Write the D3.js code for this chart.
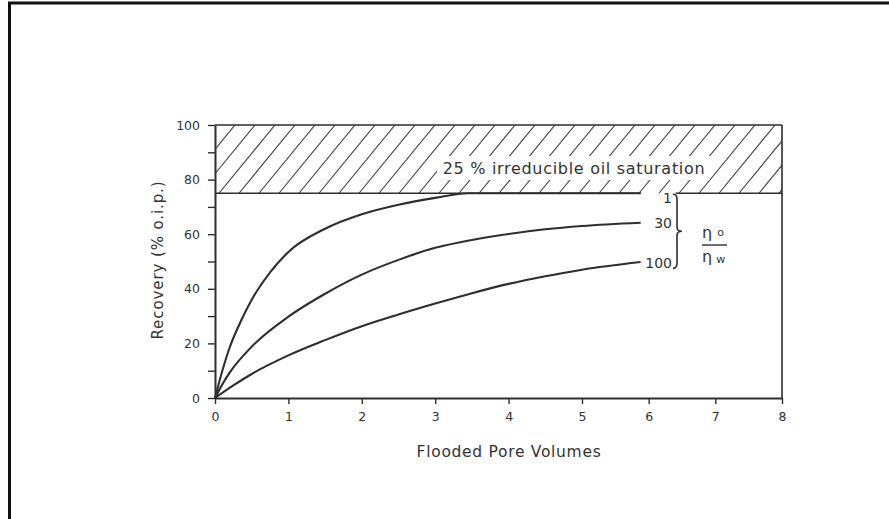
<!DOCTYPE html>
<html>
<head>
<meta charset="utf-8">
<script src="https://cdn.jsdelivr.net/npm/d3@7"></script>
<style>
  body { margin: 0; background: #ffffff; }
  text { font-family: "DejaVu Sans", sans-serif; fill: #333; }
</style>
</head>
<body>
<svg id="chart" width="889" height="519"></svg>
<script>
// Tick values
const xTicks = [0, 1, 2, 3, 4, 5, 6, 7, 8];
const yTicks = [0, 10, 20, 30, 40, 50, 60, 70, 80, 90, 100];
const yLabelled = [0, 20, 40, 60, 80, 100];

// Oil / water viscosity ratios
const ratioLabels = ["1", "30", "100"];

// Recovery (% o.i.p.) against flooded pore volumes, one list per viscosity ratio
const pvRatio1 = [0, 0.1, 0.2, 0.35, 0.5, 0.75, 1, 1.5, 2, 2.5, 3, 3.45, 4, 5, 5.88];
const recRatio1 = [0, 10, 18.5, 28, 36, 46, 53.5, 62, 67.3, 70.8, 73.3, 75, 75, 75, 75];

const pvRatio30 = [0, 0.1, 0.2, 0.5, 1, 1.5, 2, 2.5, 3, 3.5, 4, 4.5, 5, 5.88];
const recRatio30 = [0, 5, 9.3, 18.8, 29.8, 38.2, 45.2, 50.6, 55, 57.9, 60.1, 61.8, 63, 64.2];

const pvRatio100 = [0, 0.25, 0.5, 1, 1.5, 2, 2.5, 3, 3.5, 4, 4.5, 5, 5.88];
const recRatio100 = [0, 4.6, 8.8, 15.6, 21.2, 26.3, 30.6, 34.6, 38.4, 41.8, 44.6, 47, 49.8];

// Upper limit of recovery: 25 % of the oil stays in place
const residualLimit = 75;
const hatchText = "25 % irreducible oil saturation";
const xTitle = "Flooded Pore Volumes";
const yTitle = "Recovery (% o.i.p.)";

const series = [
  { label: ratioLabels[0], pv: pvRatio1, rec: recRatio1, nudge: 5 },
  { label: ratioLabels[1], pv: pvRatio30, rec: recRatio30, nudge: 0 },
  { label: ratioLabels[2], pv: pvRatio100, rec: recRatio100, nudge: 1 }
];

const ink = "#2e2e2e";
const svg = d3.select("#chart");

// Page frame (left and top edges)
svg.append("line").attr("x1", 9.5).attr("x2", 9.5).attr("y1", 2).attr("y2", 519)
  .attr("stroke", "#111").attr("stroke-width", 3);
svg.append("line").attr("x1", 8).attr("x2", 889).attr("y1", 3).attr("y2", 3)
  .attr("stroke", "#111").attr("stroke-width", 3);

// The pore-volume axis is drawn slightly wider for the first five units
const x = d3.scaleLinear().domain([0, 5, 8]).range([215, 582, 782]);
const y = d3.scaleLinear().domain([0, 100]).range([398, 125]);

// Hatched band above the residual limit
const defs = svg.append("defs");
defs.append("clipPath").attr("id", "band")
  .append("rect")
  .attr("x", x(0)).attr("y", y(100))
  .attr("width", x(8) - x(0)).attr("height", y(residualLimit) - y(100));

const slant = 56;
const hatch = svg.append("g").attr("clip-path", "url(#band)");
hatch.selectAll("line")
  .data(d3.range(x(0) - slant, x(8) + 20, 20))
  .join("line")
  .attr("x1", d => d).attr("y1", y(residualLimit))
  .attr("x2", d => d + slant).attr("y2", y(100))
  .attr("stroke", "#3a3a3a").attr("stroke-width", 1.1);

// Clear space for the band caption
const cap = svg.append("g");
cap.append("rect")
  .attr("x", 437).attr("y", 156).attr("width", 273).attr("height", 24)
  .attr("fill", "#fff");
cap.append("text")
  .attr("x", 574).attr("y", 173.5)
  .attr("text-anchor", "middle")
  .attr("font-size", 16)
  .attr("letter-spacing", 0.7)
  .text(hatchText);

// Lower edge of the band, broken where the ratio "1" label sits
const lastPv = pvRatio1[pvRatio1.length - 1];
svg.append("line")
  .attr("x1", x(0)).attr("x2", x(lastPv))
  .attr("y1", y(residualLimit)).attr("y2", y(residualLimit))
  .attr("stroke", ink).attr("stroke-width", 1.6);
svg.append("line")
  .attr("x1", x(lastPv) + 35).attr("x2", x(8))
  .attr("y1", y(residualLimit)).attr("y2", y(residualLimit))
  .attr("stroke", ink).attr("stroke-width", 1.6);

// Plot frame: top and right edges
svg.append("line").attr("x1", x(0)).attr("x2", x(8)).attr("y1", y(100)).attr("y2", y(100))
  .attr("stroke", ink).attr("stroke-width", 1.6);
svg.append("line").attr("x1", x(8)).attr("x2", x(8)).attr("y1", y(100)).attr("y2", y(0))
  .attr("stroke", ink).attr("stroke-width", 1.6);

// Axes
const yAxis = svg.append("g")
  .attr("transform", `translate(${x(0)},0)`)
  .call(d3.axisLeft(y).tickValues(yTicks).tickSize(7).tickSizeOuter(0).tickPadding(8)
    .tickFormat(d => yLabelled.includes(d) ? d : ""));
const xAxis = svg.append("g")
  .attr("transform", `translate(0,${y(0)})`)
  .call(d3.axisBottom(x).tickValues(xTicks).tickSize(6).tickSizeOuter(0).tickPadding(8)
    .tickFormat(d3.format("d")));

[yAxis, xAxis].forEach(g => {
  g.select(".domain").attr("stroke", ink).attr("stroke-width", 2);
  g.selectAll(".tick line").attr("stroke", ink).attr("stroke-width", 1.4);
  g.selectAll(".tick text")
    .attr("fill", "#3a3a3a")
    .attr("font-family", "DejaVu Sans, sans-serif")
    .attr("font-size", 12.5);
});

// Axis titles
svg.append("text")
  .attr("x", 509).attr("y", 457)
  .attr("text-anchor", "middle")
  .attr("font-size", 15.5)
  .attr("letter-spacing", 0.7)
  .text(xTitle);
svg.append("text")
  .attr("transform", `translate(163,260) rotate(-90)`)
  .attr("text-anchor", "middle")
  .attr("font-size", 15)
  .attr("letter-spacing", 0.9)
  .text(yTitle);

// Recovery curves
const line = d3.line()
  .x(d => x(d[0]))
  .y(d => y(d[1]))
  .curve(d3.curveMonotoneX);

series.forEach(s => {
  const pts = s.pv.map((p, i) => [p, s.rec[i]]);
  svg.append("path")
    .datum(pts)
    .attr("d", line)
    .attr("fill", "none")
    .attr("stroke", ink)
    .attr("stroke-width", 2.1)
    .attr("stroke-linejoin", "round");
  const end = pts[pts.length - 1];
  svg.append("text")
    .attr("x", 672)
    .attr("y", y(end[1]) + s.nudge)
    .attr("dy", "0.36em")
    .attr("text-anchor", "end")
    .attr("font-size", 14)
    .text(s.label);
});

// Brace grouping the ratio labels
const bTop = y(residualLimit) + 1;
const bBot = y(47.5);
const bMid = (bTop + bBot) / 2;
const bx = 677;
const brace = d3.path();
brace.moveTo(bx - 4, bTop);
brace.quadraticCurveTo(bx, bTop, bx, bTop + 5);
brace.lineTo(bx, bMid - 4);
brace.quadraticCurveTo(bx, bMid, bx + 5, bMid);
brace.quadraticCurveTo(bx, bMid, bx, bMid + 4);
brace.lineTo(bx, bBot - 5);
brace.quadraticCurveTo(bx, bBot, bx - 4, bBot);
svg.append("path").attr("d", brace.toString())
  .attr("fill", "none").attr("stroke", ink).attr("stroke-width", 1.6);

// Viscosity ratio η_o / η_w
const frac = svg.append("g");
const num = frac.append("text").attr("x", 702).attr("y", 238).attr("font-size", 16);
num.append("tspan").text("η");
num.append("tspan").attr("dx", 5).attr("dy", -2).attr("font-size", 11).text("o");
frac.append("line").attr("x1", 702).attr("x2", 727).attr("y1", 245).attr("y2", 245)
  .attr("stroke", ink).attr("stroke-width", 1.4);
const den = frac.append("text").attr("x", 702).attr("y", 262).attr("font-size", 16);
den.append("tspan").text("η");
den.append("tspan").attr("dx", 4).attr("dy", 1).attr("font-size", 11).text("w");
</script>
</body>
</html>
